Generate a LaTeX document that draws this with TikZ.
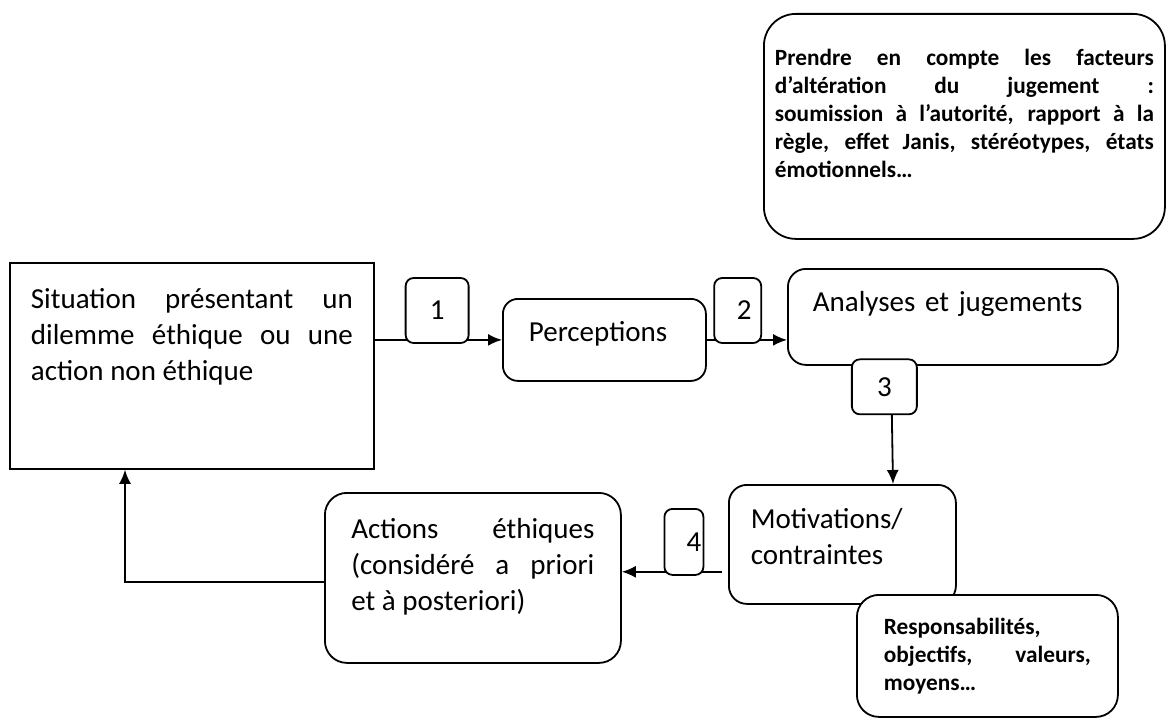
\documentclass[tikz,border=0pt]{standalone}
\usepackage{fontspec}
\setmainfont{Carlito}
\usepackage{tikz}
\usetikzlibrary{arrows.meta,positioning,calc}
\newcommand\regtext{\fontsize{29pt}{36pt}\selectfont}
\newcommand\notetext{\fontsize{23.3pt}{28pt}\selectfont\bfseries}
\tolerance=10000
\hbadness=10000
\hyphenpenalty=10000
\tikzstyle{plainbox} = [draw, rectangle, line width=1.8pt, fill=white,
    anchor=north west, inner ysep=0pt, align=justify, font=\regtext]
\tikzstyle{roundbox} = [plainbox, rounded corners=18pt]
\tikzstyle{notebox} = [roundbox, rounded corners=32pt, font=\notetext]
\tikzstyle{numtag} = [draw, rectangle, rounded corners=8pt, fill=white,
    line width=1.8pt, inner sep=0pt, font=\regtext]
\tikzstyle{connector} = [->, line width=1.8pt]

\begin{document}
\begin{tikzpicture}[x=1pt, y=-1pt, >={Latex[length=14pt,width=12pt]}]
    \useasboundingbox (0,0) rectangle (1166,717);

    \node (factors) [notebox, inner xsep=11pt, text width=379pt, text height=52pt, text depth=173pt] at (763,13)
        {\leftskip=21pt Prendre en compte les facteurs\linebreak d’altération du jugement :\linebreak soumission à l’autorité, rapport à la\linebreak règle, effet Janis, stéréotypes, états\linebreak émotionnels…};
    \node (situation) [plainbox, inner xsep=21pt, text width=322pt, text height=46pt, text depth=160pt] at (9,262)
        {Situation présentant un\linebreak dilemme éthique ou une\linebreak action non éthique};
    \node (perceptions) [roundbox, rounded corners=15pt, align=left, inner xsep=26pt, text width=151pt, text height=43pt, text depth=39pt] at (502,298) {Perceptions};
    \node (analyses) [roundbox, align=left, inner xsep=25pt, text width=280pt, text height=43pt, text depth=53pt] at (787,268) {Analyses et jugements};
    \node (motivations) [roundbox, align=left, inner xsep=22pt, text width=183pt, text height=44pt, text depth=75pt] at (728,484) {Motivations/\\contraintes};
    \node (actions) [roundbox, rounded corners=22pt, inner xsep=26.5pt, text width=243pt, text height=46pt, text depth=124pt] at (324,492)
        {Actions éthiques\linebreak (considéré a priori\linebreak et à posteriori)};
    \node (means) [notebox, rounded corners=22pt, inner xsep=27pt, text width=207pt, text height=40pt, text depth=82pt] at (856,594)
        {Responsabilités,\linebreak objectifs, valeurs,\linebreak moyens…};

    % steps 1 to 4
    \draw [connector] (perceptions.west -| situation.east) -- node [numtag, pos=0.49, above=-4pt, minimum width=63pt, minimum height=65pt] {1} (perceptions.west);
    \draw [connector] (perceptions.east) -- node [numtag, pos=0.385, above=-4pt, minimum width=47pt, minimum height=65pt] {\hspace*{13pt}2} (perceptions.east -| analyses.west);
    \draw [connector] ($(analyses.south west)+(104,0)$) -- node [numtag, pos=0.178, xshift=-7pt, minimum width=65pt, minimum height=55pt] {3} ($(motivations.north west)+(165,0)$);
    \coordinate (link4) at ($(motivations.south west)+(-6,-33)$);
    \draw [connector] (link4) -- node [numtag, pos=0.38, above=-4pt, minimum width=39pt, minimum height=66pt] {\hspace*{20pt}4} (link4 -| actions.east);

    % back to the situation
    \draw [connector] ($(actions.west)+(0,4)$) -| ($(situation.south west)+(116,0)$);
\end{tikzpicture}
\end{document}
